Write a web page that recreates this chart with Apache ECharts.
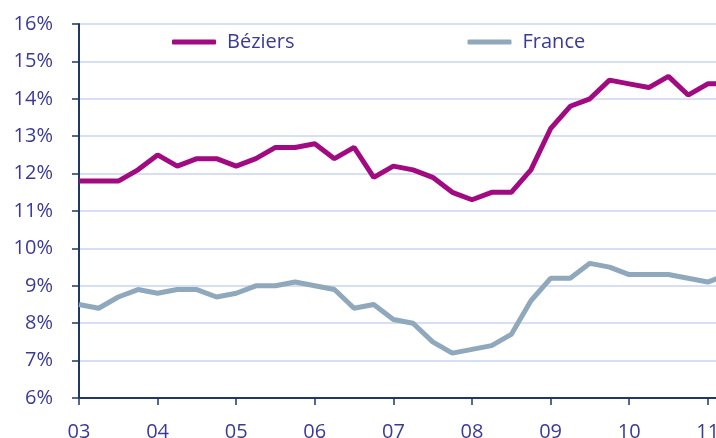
<!DOCTYPE html>
<html>
<head>
<meta charset="utf-8">
<script src="https://cdn.jsdelivr.net/npm/echarts@6/dist/echarts.min.js"></script>
<style>
  html, body { margin: 0; padding: 0; background: #fff; overflow: hidden; }
  /* le graphique déborde à droite comme dans l'original */
  #chart { width: 728px; height: 438px; }
</style>
</head>
<body>
<div id="chart"></div>
<script>
// trimestres 2003 T1 -> 2011 T2
var quarters = [
  '2003T1','2003T2','2003T3','2003T4','2004T1','2004T2','2004T3','2004T4',
  '2005T1','2005T2','2005T3','2005T4','2006T1','2006T2','2006T3','2006T4',
  '2007T1','2007T2','2007T3','2007T4','2008T1','2008T2','2008T3','2008T4',
  '2009T1','2009T2','2009T3','2009T4','2010T1','2010T2','2010T3','2010T4',
  '2011T1','2011T2'
];
var yearLabels = ['03','04','05','06','07','08','09','10','11'];

// taux de chômage (%)
var beziers = [
  11.8, 11.8, 11.8, 12.1, 12.5, 12.2, 12.4, 12.4,
  12.2, 12.4, 12.7, 12.7, 12.8, 12.4, 12.7, 11.9,
  12.2, 12.1, 11.9, 11.5, 11.3, 11.5, 11.5, 12.1,
  13.2, 13.8, 14.0, 14.5, 14.4, 14.3, 14.6, 14.1,
  14.4, 14.4
];
var france = [
  8.5, 8.4, 8.7, 8.9, 8.8, 8.9, 8.9, 8.7,
  8.8, 9.0, 9.0, 9.1, 9.0, 8.9, 8.4, 8.5,
  8.1, 8.0, 7.5, 7.2, 7.3, 7.4, 7.7, 8.6,
  9.2, 9.2, 9.6, 9.5, 9.3, 9.3, 9.3, 9.2,
  9.1, 9.3
];

var textColor = '#3b3b96';
var axisColor = '#1f3864';
var font = '"Open Sans", sans-serif';

var chart = echarts.init(document.getElementById('chart'));

var option = {
  animation: false,
  textStyle: { fontFamily: font },
  legend: {
    left: 167,
    top: 27,
    itemWidth: 44,
    itemHeight: 5,
    itemGap: 173,
    icon: 'roundRect',
    textStyle: {
      color: textColor,
      fontSize: 20,
      lineHeight: 20,
      fontFamily: font,
      padding: [0, 0, 0, 6]
    },
    data: ['Béziers', 'France']
  },
  grid: {
    left: 79,
    right: 0.6,
    top: 24,
    bottom: 40,
    containLabel: false,
    outerBoundsMode: 'none'
  },
  xAxis: {
    type: 'category',
    boundaryGap: false,
    data: quarters,
    axisLine: { lineStyle: { color: axisColor, width: 2 } },
    axisTick: { interval: 3, length: 7, lineStyle: { color: axisColor, width: 1.5 } },
    axisLabel: {
      interval: 3,
      margin: 24,
      color: textColor,
      fontSize: 20,
      fontFamily: font,
      formatter: function (v) {
        var i = quarters.indexOf(v);
        return yearLabels[i / 4] || '';
      }
    },
    splitLine: { show: false }
  },
  yAxis: {
    type: 'value',
    min: 6,
    max: 16,
    interval: 1,
    axisLine: { show: true, lineStyle: { color: axisColor, width: 2 } },
    axisTick: { show: true, length: 7, lineStyle: { color: axisColor, width: 1.5 } },
    axisLabel: {
      margin: 26,
      color: textColor,
      fontSize: 20,
      fontFamily: font,
      formatter: '{value}%'
    },
    splitLine: { lineStyle: { color: '#c9d5ef', width: 1.5 } }
  },
  series: [
    {
      name: 'Béziers',
      type: 'line',
      data: beziers,
      symbol: 'none',
      color: '#a10a80',
      lineStyle: { width: 5, color: '#a10a80' }
    },
    {
      name: 'France',
      type: 'line',
      data: france,
      symbol: 'none',
      color: '#8fa8bb',
      lineStyle: { width: 5, color: '#8fa8bb' }
    }
  ]
};

chart.setOption(option);
</script>
</body>
</html>
